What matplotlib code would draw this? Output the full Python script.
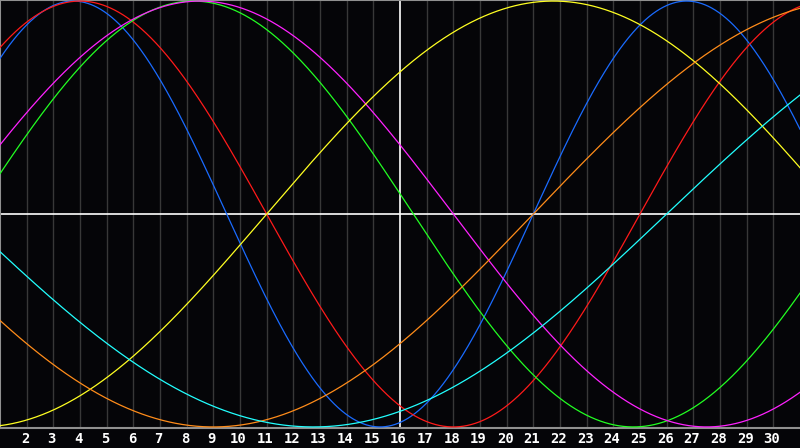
import numpy as np
import matplotlib
matplotlib.use("Agg")
import matplotlib.pyplot as plt
from matplotlib.transforms import ScaledTranslation

# ---- data ----
days_since_birth_day1 = 33100          # day count at the left edge (day 1)
first_day = 1
last_day = 31
today = 16
tick_days = list(range(2, 31))
tick_labels = [str(d) for d in tick_days]
cycle_periods = [23, 28, 33, 38, 43, 48, 53]
cycle_names = ["Physical", "Emotional", "Intellectual", "Intuitive",
               "Aesthetic", "Awareness", "Spiritual"]
cycle_colors = ["#1a6bff", "#ff1a1a", "#22ff22", "#ff22ff",
                "#ffff22", "#ff8c1a", "#22ffff"]

BG = "#050508"
W, H = 800, 448
fig = plt.figure(figsize=(W / 100, H / 100), dpi=100, facecolor=BG)
ax = fig.add_axes([0, 20 / H, 1, 428 / H])
ax.set_facecolor(BG)

d = np.linspace(first_day, last_day, 2000)
t = days_since_birth_day1 + (d - first_day)

# grid
for gd in tick_days:
    if gd == today:
        continue
    ax.axvline(gd, color="#383838", lw=1.0, zorder=1)

for per, col, name in zip(cycle_periods, cycle_colors, cycle_names):
    ax.plot(d, np.sin(2 * np.pi * t / per), color=col, lw=0.9, zorder=3, label=name)

ax.axhline(0, color="white", lw=1.2, zorder=2)
ax.axvline(today, color="white", lw=1.2, zorder=2)

ax.set_xlim(first_day, last_day)
ax.set_ylim(-1.005, 1.005)
ax.set_xticks(tick_days)
ax.set_xticklabels(tick_labels)
ax.tick_params(axis="x", length=0, pad=3, colors="white", labelsize=10)
offset = ScaledTranslation(-1.5 / 100, 0, fig.dpi_scale_trans)
for lab in ax.get_xticklabels():
    lab.set_fontfamily("DejaVu Sans Mono")
    lab.set_fontweight("bold")
    lab.set_transform(lab.get_transform() + offset)
ax.set_yticks([])
ax.spines["right"].set_visible(False)
for side in ["left", "top", "bottom"]:
    ax.spines[side].set_color("#909090")
    ax.spines[side].set_linewidth(1.5)

fig.savefig("out.png", dpi=100, facecolor=BG)
